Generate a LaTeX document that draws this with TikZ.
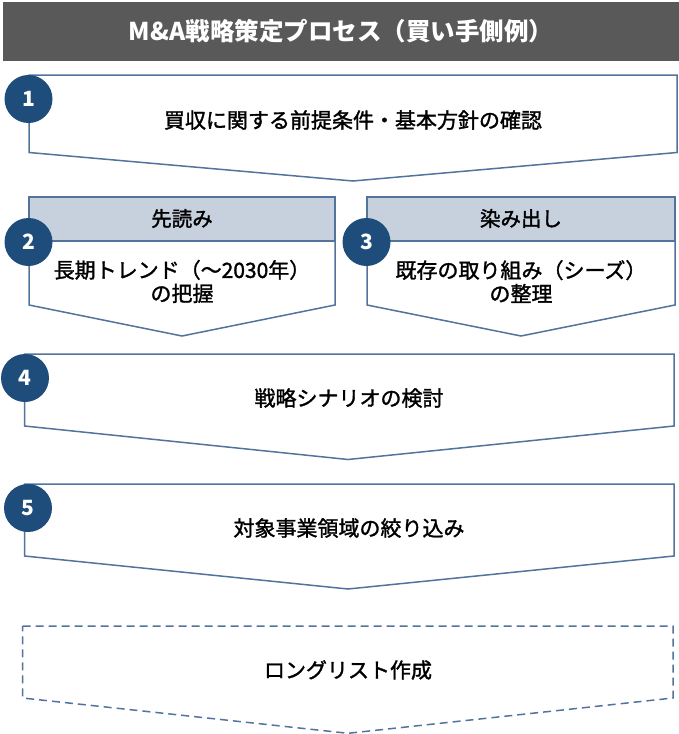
\documentclass[tikz,border=0pt]{standalone}
\usepackage{fontspec}
\setmainfont{Noto Sans CJK JP}
\newfontfamily\jpmed{Noto Sans CJK JP}[FakeBold=1.5]
\definecolor{titlegray}{HTML}{595959}
\definecolor{linblue}{HTML}{52739C}
\definecolor{numblue}{HTML}{1F4D7B}
\definecolor{headfill}{HTML}{C7D1DD}
\begin{document}
\begin{tikzpicture}
[x=1pt,y=-1pt,%
 boxstyle/.style={draw=linblue,line width=1.5pt,fill=white,line join=miter},%
 dashstyle/.style={boxstyle,dash pattern=on 8pt off 5pt},%
 headstyle/.style={draw=linblue,line width=1.5pt,fill=headfill},%
 numstyle/.style={circle,fill=numblue,text=white,minimum size=48pt,inner sep=0pt,font=\bfseries\fontsize{21}{21}\selectfont},%
 textstyle/.style={align=center,font=\jpmed\fontsize{21}{23.5}\selectfont},%
 headtext/.style={font=\jpmed\fontsize{20.5}{20.5}\selectfont}]
\useasboundingbox (0,0) rectangle (679,734);
%% title bar
\fill[titlegray] (3,2) rectangle (679,61);
\node[text=white,font=\bfseries\fontsize{24.5}{24.5}\selectfont] (title) at (341,31) {M\&A戦略策定プロセス（買い手側例）};
%% step 1
\draw[boxstyle] (29,75) -- (677,75) -- (677,152.5) -- (353,181) -- (29,152.5) -- cycle;
\node[textstyle] (t1) at (353,120) {買収に関する前提条件・基本方針の確認};
\node[numstyle] (n1) at (28.5,99) {1};
%% step 2
\draw[boxstyle] (29,197) -- (335,197) -- (335,305) -- (182,336) -- (29,305) -- cycle;
\draw[headstyle] (29,197) rectangle (335,241);
\node[headtext] (h2) at (182,218.5) {先読み};
\node[textstyle] (t2) at (182,281.5) {長期トレンド（～2030年）\\の把握};
\node[numstyle] (n2) at (28.5,242) {2};
%% step 3
\draw[boxstyle] (367,197) -- (675,197) -- (675,305) -- (521,336) -- (367,305) -- cycle;
\draw[headstyle] (367,197) rectangle (675,241);
\node[headtext] (h3) at (521,218.5) {染み出し};
\node[textstyle] (t3) at (521,281.5) {既存の取り組み（シーズ）\\の整理};
\node[numstyle] (n3) at (366.5,242) {3};
%% step 4
\draw[boxstyle] (24.5,354) -- (674,354) -- (674,426) -- (348,459.5) -- (24.5,426) -- cycle;
\node[textstyle] (t4) at (349,398) {戦略シナリオの検討};
\node[numstyle] (n4) at (25,378) {4};
%% step 5
\draw[boxstyle] (24.5,484) -- (674,484) -- (674,556) -- (348,589) -- (24.5,556) -- cycle;
\node[textstyle] (t5) at (349,528) {対象事業領域の絞り込み};
\node[numstyle] (n5) at (28,508) {5};
%% long list (dashed)
\draw[dashstyle] (22.7,626) -- (673,626) -- (673,698) -- (348,733.3) -- (22.7,698) -- cycle;
\node[textstyle] (t6) at (348,670) {ロングリスト作成};
\end{tikzpicture}
\end{document}
